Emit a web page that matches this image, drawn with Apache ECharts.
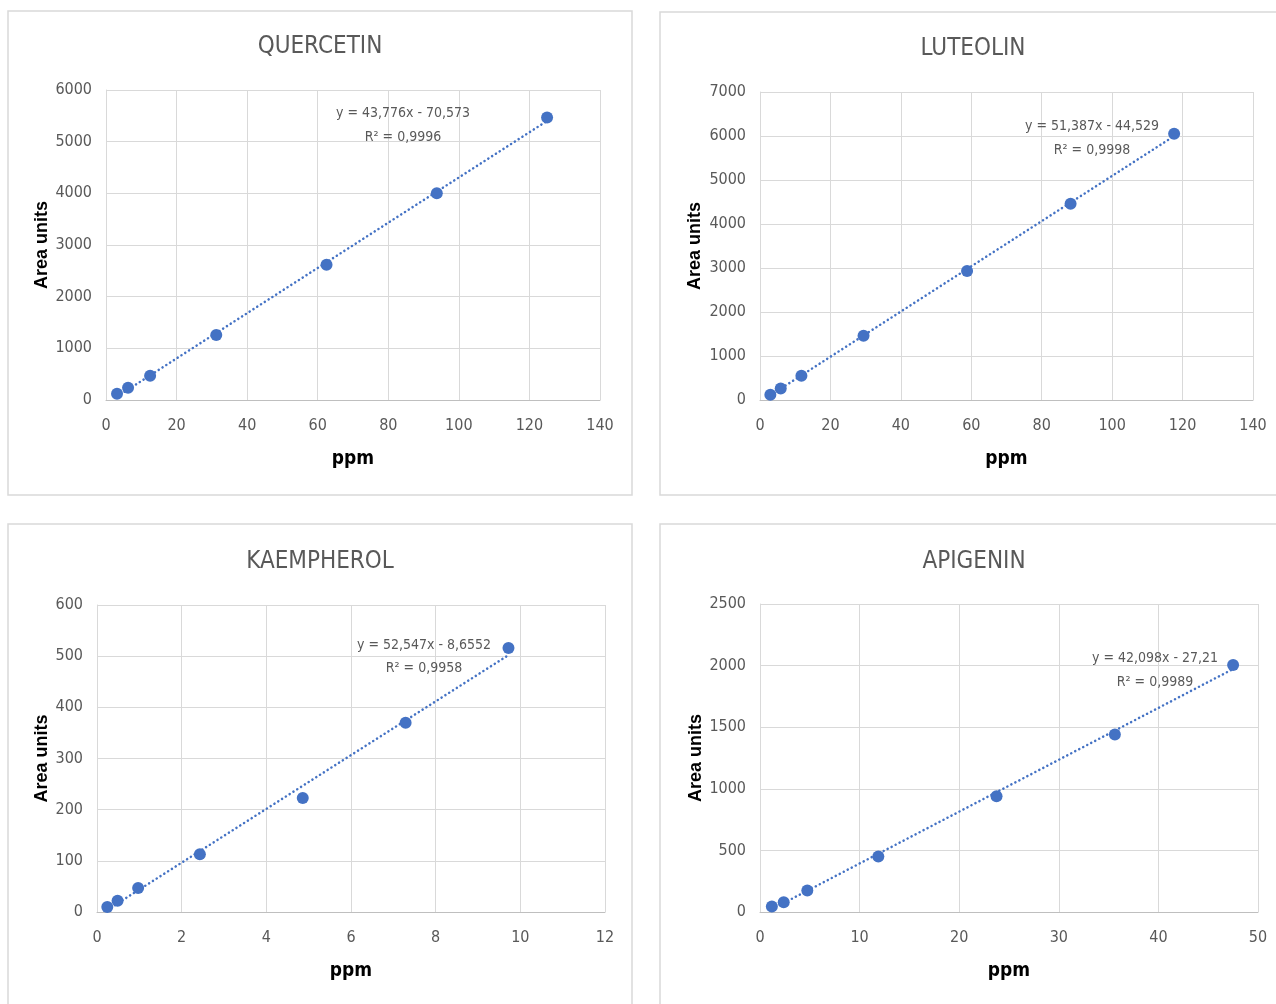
<!DOCTYPE html>
<html><head><meta charset="utf-8">
<script src="https://cdn.jsdelivr.net/npm/echarts@6/dist/echarts.min.js"></script>
<style>html,body{margin:0;padding:0;background:#fff}#c{width:1276px;height:1004px}</style>
</head><body><div id="c"></div>
<script>
// ---- data ----
const titles = ['QUERCETIN', 'LUTEOLIN', 'KAEMPHEROL', 'APIGENIN'];
const quercetinPpm  = [3.125, 6.25, 12.5, 31.25, 62.5, 93.75, 125];
const quercetinArea = [120, 235, 470, 1260, 2620, 4000, 5470];
const luteolinPpm   = [2.94, 5.88, 11.76, 29.4, 58.8, 88.2, 117.6];
const luteolinArea  = [120, 260, 550, 1460, 2930, 4460, 6050];
const kaempherolPpm  = [0.243, 0.486, 0.972, 2.43, 4.86, 7.29, 9.72];
const kaempherolArea = [10, 22, 47, 113, 223, 370, 516];
const apigeninPpm   = [1.19, 2.38, 4.75, 11.88, 23.75, 35.63, 47.5];
const apigeninArea  = [45, 80, 175, 450, 940, 1440, 2005];
// trendline coefficients (as printed on the chart)
const slopes     = [43.776, 51.387, 52.547, 42.098];
const intercepts = [-70.573, -44.529, -8.6552, -27.21];
const eqTexts = ['y = 43,776x - 70,573', 'y = 51,387x - 44,529', 'y = 52,547x - 8,6552', 'y = 42,098x - 27,21'];
const r2Texts = ['R² = 0,9996', 'R² = 0,9998', 'R² = 0,9958', 'R² = 0,9989'];
// axis scales
const xMax = [140, 140, 12, 50];
const xStep = [20, 20, 2, 10];
const yMax = [6000, 7000, 600, 2500];
const yStep = [1000, 1000, 100, 500];
const xName = 'ppm';
const yName = 'Area units';

// ---- layout ----
const ppms = [quercetinPpm, luteolinPpm, kaempherolPpm, apigeninPpm];
const areas = [quercetinArea, luteolinArea, kaempherolArea, apigeninArea];
const grids = [
  {left: 106, top: 90, width: 494, height: 310},
  {left: 760, top: 92, width: 493, height: 308},
  {left: 97, top: 605, width: 508, height: 307},
  {left: 760, top: 604, width: 498, height: 308}
];
const yNameGap = [55, 56, 46, 54];
const frames = [
  {x: 8, y: 11, width: 624, height: 484},
  {x: 660, y: 12, width: 640, height: 483},
  {x: 8, y: 524, width: 624, height: 520},
  {x: 660, y: 524, width: 640, height: 520}
];
const titlePos = [[320, 47], [973, 49], [320, 562], [974, 562]];
const eqPos = [[403, 113, 137], [1092, 126, 150], [424, 645, 668], [1155, 658, 682]];

const narrow = '"Liberation Sans Narrow", "DejaVu Sans Condensed", "Roboto Condensed", sans-serif';
const grey = '#595959';
const blue = '#4472C4';

const xAxes = [], yAxes = [], series = [], graphic = [];
for (let i = 0; i < 4; i++) {
  xAxes.push({
    type: 'value', gridIndex: i, min: 0, max: xMax[i], interval: xStep[i],
    name: xName, nameLocation: 'middle', nameGap: 50,
    nameTextStyle: {fontFamily: narrow, fontWeight: 'bold', fontSize: 19, color: '#000'},
    axisLine: {show: true, lineStyle: {color: '#bfbfbf', width: 1}},
    axisTick: {show: false},
    axisLabel: {fontFamily: narrow, fontSize: 16, color: grey, margin: 18, formatter: v => String(v)},
    splitLine: {show: true, lineStyle: {color: '#d9d9d9', width: 1}}
  });
  yAxes.push({
    type: 'value', gridIndex: i, min: 0, max: yMax[i], interval: yStep[i],
    name: yName, nameLocation: 'middle', nameGap: yNameGap[i],
    nameTextStyle: {fontFamily: '"Liberation Sans", Arial, sans-serif', fontWeight: 'bold', fontSize: 18, color: '#000'},
    axisLine: {show: true, lineStyle: {color: '#d9d9d9', width: 1}},
    axisTick: {show: false},
    axisLabel: {fontFamily: narrow, fontSize: 16, color: grey, margin: 14, formatter: v => String(v)},
    splitLine: {show: true, lineStyle: {color: '#d9d9d9', width: 1}}
  });
  const xs = ppms[i];
  const x0 = xs[0], x1 = xs[xs.length - 1];
  series.push({
    type: 'line', xAxisIndex: i, yAxisIndex: i, symbol: 'none', silent: true,
    data: [[x0, slopes[i] * x0 + intercepts[i]], [x1, slopes[i] * x1 + intercepts[i]]],
    lineStyle: {color: blue, width: 2.5, type: [0.1, 4.4], cap: 'round'}, z: 2
  });
  series.push({
    type: 'scatter', xAxisIndex: i, yAxisIndex: i, symbol: 'circle', symbolSize: 12,
    data: xs.map((x, k) => [x, areas[i][k]]),
    itemStyle: {color: blue, opacity: 1}, z: 3
  });
  graphic.push({type: 'rect', shape: frames[i], style: {fill: 'none', stroke: '#d9d9d9', lineWidth: 1.5}, silent: true});
  graphic.push({type: 'text', x: titlePos[i][0], y: titlePos[i][1],
    style: {text: titles[i], fill: grey, font: '24px ' + narrow, textAlign: 'center', textVerticalAlign: 'middle'}});
  graphic.push({type: 'text', x: eqPos[i][0], y: eqPos[i][1], z: 10,
    style: {text: eqTexts[i], fill: grey, font: '14px ' + narrow, textAlign: 'center', textVerticalAlign: 'middle'}});
  graphic.push({type: 'text', x: eqPos[i][0], y: eqPos[i][2], z: 10,
    style: {text: r2Texts[i], fill: grey, font: '14px ' + narrow, textAlign: 'center', textVerticalAlign: 'middle'}});
}

const chart = echarts.init(document.getElementById('c'), null, {renderer: 'canvas'});
chart.setOption({
  animation: false,
  backgroundColor: '#fff',
  grid: grids,
  xAxis: xAxes,
  yAxis: yAxes,
  series: series,
  graphic: graphic
});
</script>
</body></html>
